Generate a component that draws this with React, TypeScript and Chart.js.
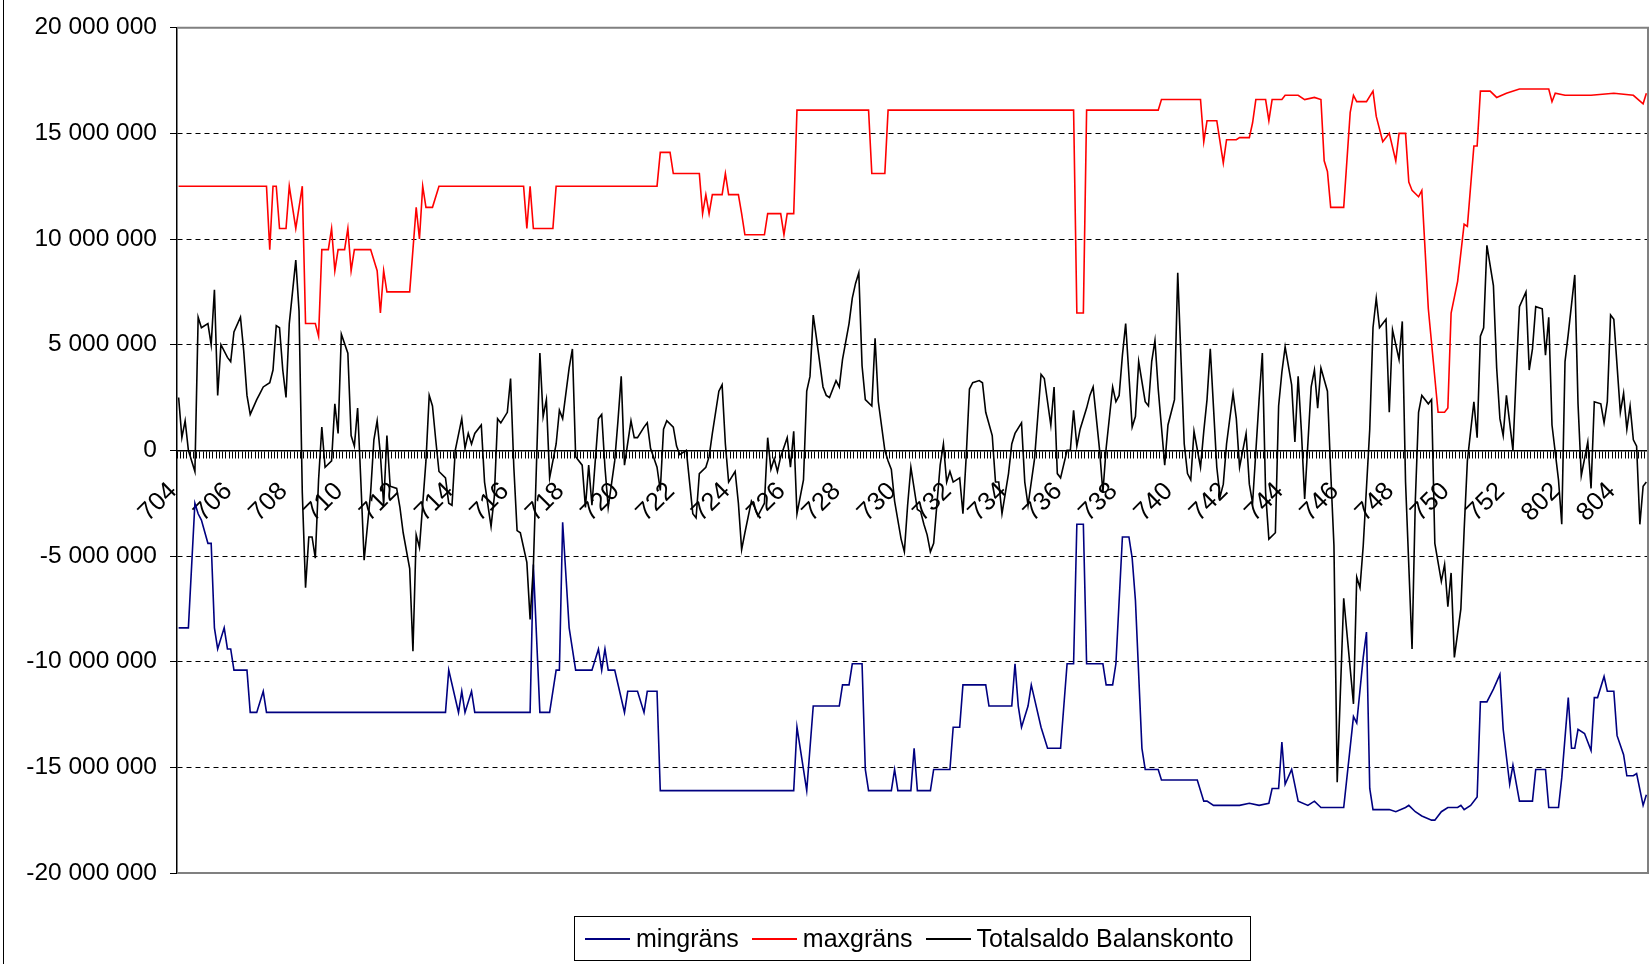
import React, { useEffect, useRef } from "react";
import { Chart, registerables } from "chart.js";

Chart.register(...registerables);

// Week labels shown on the category axis (one every 17 trading days)
const weekLabels = [
  "704", "706", "708", "710", "712", "714", "716", "718", "720", "722", "724", "726", "728",
  "730", "732", "734", "736", "738", "740", "742", "744", "746", "748", "750", "752", "802", "804",
];
const dayCount = 452;
const daysPerLabel = 17;

// Series values in millions SEK, as [day index, value]
const mingrans: [number, number][] = [
  [0, -8.4], [3, -8.4], [5, -2.5], [6, -3.0], [7, -3.3], [9, -4.4], [10, -4.4], [11, -8.4], [12, -9.4], [14, -8.4],
  [15, -9.4], [16, -9.4], [17, -10.4], [21, -10.4], [22, -12.4], [24, -12.4], [26, -11.4], [27, -12.4], [82, -12.4],
  [83, -10.4], [86, -12.4], [87, -11.4], [88, -12.4], [90, -11.4], [91, -12.4], [108, -12.4], [109, -5.4], [111, -12.4],
  [114, -12.4], [116, -10.4], [117, -10.4], [118, -3.4], [120, -8.4], [122, -10.4], [127, -10.4], [129, -9.4], [130, -10.4],
  [131, -9.4], [132, -10.4], [134, -10.4], [137, -12.4], [138, -11.4], [141, -11.4], [143, -12.4], [144, -11.4], [147, -11.4],
  [148, -16.1], [189, -16.1], [190, -13.1], [193, -16.1], [195, -12.1], [203, -12.1], [204, -11.1], [206, -11.1], [207, -10.1],
  [210, -10.1], [211, -15.1], [212, -16.1], [219, -16.1], [220, -15.1], [221, -16.1], [225, -16.1], [226, -14.1], [227, -16.1],
  [231, -16.1], [232, -15.1], [237, -15.1], [238, -13.1], [240, -13.1], [241, -11.1], [248, -11.1], [249, -12.1], [256, -12.1],
  [257, -10.1], [258, -12.1], [259, -13.1], [261, -12.1], [262, -11.1], [265, -13.1], [267, -14.1], [271, -14.1], [273, -10.1],
  [275, -10.1], [276, -3.5], [278, -3.5], [279, -10.1], [284, -10.1], [285, -11.1], [287, -11.1], [288, -10.1], [290, -4.1],
  [292, -4.1], [293, -5.1], [294, -7.1], [296, -14.1], [297, -15.1], [301, -15.1], [302, -15.6], [313, -15.6], [315, -16.6],
  [316, -16.6], [318, -16.8], [326, -16.8], [329, -16.7], [332, -16.8], [335, -16.7], [336, -16.0], [338, -16.0], [339, -13.8],
  [340, -15.8], [342, -15.1], [344, -16.6], [347, -16.8], [349, -16.6], [351, -16.9], [358, -16.9], [361, -12.6], [362, -12.9],
  [364, -9.8], [365, -8.6], [366, -16.0], [367, -17.0], [372, -17.0], [374, -17.1], [377, -16.9], [378, -16.8], [380, -17.1],
  [382, -17.3], [385, -17.5], [386, -17.5], [388, -17.1], [390, -16.9], [393, -16.9], [394, -16.8], [395, -17.0], [397, -16.8],
  [399, -16.4], [400, -11.9], [402, -11.9], [404, -11.3], [406, -10.6], [407, -13.2], [409, -15.8], [410, -14.9], [412, -16.6],
  [416, -16.6], [417, -15.1], [420, -15.1], [421, -16.9], [424, -16.9], [425, -15.5], [427, -11.7], [428, -14.1], [429, -14.1],
  [430, -13.2], [432, -13.4], [434, -14.2], [435, -11.7], [436, -11.7], [438, -10.7], [439, -11.4], [441, -11.4], [442, -13.5],
  [444, -14.4], [445, -15.4], [447, -15.4], [448, -15.3], [450, -16.8], [451, -16.3],
];

const maxgrans: [number, number][] = [
  [0, 12.5], [27, 12.5], [28, 9.5], [29, 12.5], [30, 12.5], [31, 10.5], [33, 10.5], [34, 12.5], [36, 10.5], [38, 12.5],
  [39, 6.0], [42, 6.0], [43, 5.4], [44, 9.5], [46, 9.5], [47, 10.5], [48, 8.5], [49, 9.5], [51, 9.5], [52, 10.5], [53, 8.5],
  [54, 9.5], [59, 9.5], [61, 8.5], [62, 6.5], [63, 8.5], [64, 7.5], [71, 7.5], [72, 9.5], [73, 11.5], [74, 10.0], [75, 12.5],
  [76, 11.5], [78, 11.5], [80, 12.5], [106, 12.5], [107, 10.5], [108, 12.5], [109, 10.5], [115, 10.5], [116, 12.5], [147, 12.5],
  [148, 14.1], [151, 14.1], [152, 13.1], [160, 13.1], [161, 11.2], [162, 12.1], [163, 11.2], [164, 12.1], [167, 12.1], [168, 13.1],
  [169, 12.1], [172, 12.1], [173, 11.2], [174, 10.2], [180, 10.2], [181, 11.2], [185, 11.2], [186, 10.2], [187, 11.2], [189, 11.2],
  [190, 16.1], [212, 16.1], [213, 13.1], [217, 13.1], [218, 16.1], [275, 16.1], [276, 6.5], [278, 6.5], [279, 16.1], [301, 16.1],
  [302, 16.6], [314, 16.6], [315, 14.6], [316, 15.6], [319, 15.6], [321, 13.6], [322, 14.7], [325, 14.7], [326, 14.8], [329, 14.8],
  [330, 15.5], [331, 16.6], [334, 16.6], [335, 15.6], [336, 16.6], [339, 16.6], [340, 16.8], [344, 16.8], [346, 16.6], [349, 16.7],
  [351, 16.6], [352, 13.7], [353, 13.2], [354, 11.5], [358, 11.5], [360, 16.0], [361, 16.8], [362, 16.5], [365, 16.5], [367, 17.0],
  [368, 15.8], [370, 14.6], [372, 15.0], [374, 13.7], [375, 15.0], [377, 15.0], [378, 12.7], [379, 12.3], [381, 12.0], [382, 12.3],
  [384, 6.7], [387, 1.8], [389, 1.8], [390, 2.0], [391, 6.5], [393, 8.0], [395, 10.7], [396, 10.6], [398, 14.4], [399, 14.4],
  [400, 17.0], [403, 17.0], [405, 16.7], [408, 16.9], [412, 17.1], [421, 17.1], [422, 16.5], [423, 16.9], [426, 16.8], [434, 16.8],
  [441, 16.9], [447, 16.8], [450, 16.4], [451, 16.9],
];

const totalsaldo: [number, number][] = [
  [0, 2.5], [1, 0.6], [2, 1.4], [3, 0], [5, -1.0], [6, 6.3], [7, 5.8], [9, 6.0], [10, 5.0], [11, 7.6], [12, 2.6], [13, 5.0],
  [15, 4.4], [16, 4.2], [17, 5.6], [19, 6.3], [20, 4.7], [21, 2.6], [22, 1.7], [24, 2.4], [25, 2.7], [26, 3.0], [28, 3.2],
  [29, 3.8], [30, 5.9], [31, 5.8], [32, 3.8], [33, 2.5], [34, 6.0], [36, 9.0], [37, 6.6], [38, -2.0], [39, -6.5], [40, -4.1],
  [41, -4.1], [42, -5.1], [43, -1.4], [44, 1.1], [45, -0.8], [47, -0.5], [48, 2.2], [49, 0.8], [50, 5.5], [52, 4.6], [53, 0.7],
  [54, 0.2], [55, 2.0], [56, -1.5], [57, -5.2], [59, -2.0], [60, 0.5], [61, 1.4], [62, -0.2], [63, -2.6], [64, 0.7], [65, -1.7],
  [67, -1.8], [68, -2.7], [69, -3.9], [71, -5.6], [72, -9.5], [73, -4.0], [74, -4.6], [76, -0.5], [77, 2.6], [78, 2.1], [79, 0.5],
  [80, -1.0], [82, -1.3], [83, -2.5], [84, -2.6], [85, 0.0], [87, 1.5], [88, 0.1], [89, 0.8], [90, 0.3], [91, 0.8], [93, 1.2],
  [94, -1.5], [96, -3.6], [97, -2.2], [98, 1.5], [99, 1.3], [101, 1.8], [102, 3.4], [103, -0.8], [104, -3.8], [105, -3.9],
  [107, -5.3], [108, -8.0], [109, -5.5], [111, 4.6], [112, 1.6], [113, 2.4], [114, -1.3], [116, 0.3], [117, 1.9], [118, 1.5],
  [120, 3.9], [121, 4.8], [122, -0.3], [124, -0.7], [125, -2.7], [126, -0.7], [127, -2.6], [129, 1.5], [130, 1.7], [131, -0.8],
  [132, -2.7], [134, -0.5], [135, 1.4], [136, 3.5], [137, -0.7], [139, 1.4], [140, 0.6], [141, 0.6], [143, 1.1], [144, 1.3],
  [145, 0.1], [147, -0.8], [148, -1.9], [149, 1.0], [150, 1.4], [152, 1.1], [153, 0.2], [154, -0.2], [156, 0.0], [157, -1.5],
  [158, -3.0], [159, -3.2], [160, -1.1], [162, -0.8], [163, -0.3], [164, 0.8], [166, 2.8], [167, 3.1], [168, 0.3], [169, -1.5],
  [171, -1.0], [172, -2.5], [173, -4.7], [174, -3.9], [176, -2.4], [177, -2.7], [178, -3.1], [180, -2.5], [181, 0.6], [182, -0.9],
  [183, -0.4], [184, -1.0], [185, -0.3], [187, 0.6], [188, -0.8], [189, 0.9], [190, -3.0], [192, -1.4], [193, 2.8], [194, 3.5],
  [195, 6.4], [196, 5.3], [198, 3.0], [199, 2.6], [200, 2.5], [202, 3.3], [203, 3.0], [204, 4.3], [206, 6.0], [207, 7.2],
  [208, 7.9], [209, 8.4], [210, 4.0], [211, 2.4], [213, 2.1], [214, 5.3], [215, 2.3], [217, 0.0], [218, -0.5], [219, -0.9],
  [220, -2.4], [222, -4.2], [223, -4.8], [224, -2.6], [225, -0.8], [227, -2.8], [228, -2.9], [229, -3.5], [230, -4.0], [231, -4.8],
  [232, -4.4], [234, -0.7], [235, 0.3], [236, -1.5], [237, -1.0], [238, -1.5], [240, -1.3], [241, -3.0], [242, -0.3], [243, 2.9],
  [244, 3.2], [246, 3.3], [247, 3.2], [248, 1.8], [250, 0.7], [251, -1.5], [252, -1.5], [253, -3.0], [255, -1.1], [256, 0.3],
  [257, 0.8], [259, 1.3], [260, -1.5], [261, -2.6], [263, -0.4], [264, 1.6], [265, 3.6], [266, 3.4], [268, 1.2], [269, 3.0],
  [270, -1.1], [271, -1.3], [273, 0.0], [274, 0.0], [275, 1.9], [276, 0.2], [277, 1.0], [279, 2.0], [280, 2.6], [281, 3.0],
  [283, 0.0], [284, -2.0], [285, 0.1], [287, 3.0], [288, 2.3], [289, 2.6], [290, 4.5], [291, 6.0], [293, 1.1], [294, 1.6],
  [295, 4.2], [297, 2.3], [298, 2.1], [299, 4.2], [300, 5.2], [301, 2.9], [303, -0.7], [304, 1.2], [305, 1.8], [306, 2.4],
  [307, 8.4], [309, 0.3], [310, -1.1], [311, -1.4], [312, 0.9], [314, -0.8], [315, 0.9], [316, 2.4], [317, 4.8], [319, -0.8],
  [320, -2.2], [321, -1.6], [322, 0.3], [324, 2.7], [325, 1.5], [326, -0.8], [328, 0.8], [329, -1.6], [330, -2.5], [332, 2.4],
  [333, 4.6], [334, -2.0], [335, -4.2], [337, -3.9], [338, 2.1], [339, 3.7], [340, 4.9], [342, 3.1], [343, 0.4], [344, 3.5],
  [345, 0.9], [346, -2.3], [348, 3.0], [349, 3.8], [350, 2.0], [351, 3.9], [353, 2.8], [354, -1.0], [355, -4.5], [356, -15.7],
  [358, -7.0], [361, -12.0], [362, -6.0], [363, -6.5], [364, -4.5], [366, 1.0], [367, 5.8], [368, 7.2], [369, 5.8], [371, 6.2],
  [372, 1.8], [373, 5.7], [375, 4.3], [376, 6.1], [377, -1.5], [379, -9.4], [380, -2.4], [381, 1.8], [382, 2.6], [384, 2.2],
  [385, 2.4], [386, -4.4], [388, -6.2], [389, -5.4], [390, -7.4], [391, -5.8], [392, -9.8], [394, -7.5], [395, -3.8], [396, -0.5],
  [398, 2.3], [399, 0.6], [400, 5.4], [401, 5.8], [402, 9.7], [404, 7.8], [405, 3.9], [406, 1.5], [407, 0.7], [408, 2.6],
  [410, 0.0], [411, 3.6], [412, 6.8], [414, 7.5], [415, 3.8], [416, 4.8], [417, 6.8], [419, 6.7], [420, 4.5], [421, 6.3],
  [422, 1.2], [424, -1.4], [425, -3.5], [426, 4.2], [427, 5.5], [429, 8.3], [430, 2.2], [431, -1.2], [433, 0.4], [434, -1.8],
  [435, 2.3], [437, 2.2], [438, 1.3], [439, 2.3], [440, 6.4], [441, 6.2], [443, 1.8], [444, 2.7], [445, 1.0], [446, 2.1],
  [447, 0.5], [448, 0.2], [449, -3.5], [450, -1.7], [451, -1.5],
];

const yTicks = { min: -20000000, max: 20000000, step: 5000000 };

const FONT = '"Liberation Sans", Arial, Helvetica, sans-serif';

const toPoints = (s: [number, number][]) => s.map(([d, v]) => ({ x: d, y: v * 1000000 }));

const fmt = (v: number) => {
  const n = Math.round(v);
  const s = String(Math.abs(n)).replace(/\B(?=(\d{3})+(?!\d))/g, " ");
  return (n < 0 ? "-" : "") + s;
};

const framePlugin = {
  id: "frame",
  beforeDatasetsDraw(chart: any) {
    const { ctx, chartArea } = chart;
    const { left, top, right, bottom } = chartArea;
    ctx.save();
    ctx.strokeStyle = "#808080";
    ctx.lineWidth = 2;
    ctx.beginPath();
    ctx.moveTo(left, top);
    ctx.lineTo(right, top);
    ctx.lineTo(right, bottom);
    ctx.lineTo(left, bottom);
    ctx.stroke();
    ctx.restore();
  },
  afterDraw(chart: any) {
    const { ctx } = chart;
    ctx.save();
    ctx.strokeStyle = "#000";
    ctx.lineWidth = 1;
    ctx.beginPath();
    ctx.moveTo(3.5, 0);
    ctx.lineTo(3.5, chart.height);
    ctx.stroke();
    ctx.restore();
  },
};

const legendItems = [
  { label: "mingräns", color: "#000080" },
  { label: "maxgräns", color: "#FF0000" },
  { label: "Totalsaldo Balanskonto", color: "#000000" },
];

export default function App() {
  const ref = useRef<HTMLCanvasElement>(null);

  useEffect(() => {
    if (!ref.current) return;
    const chart = new Chart(ref.current, {
      type: "line",
      data: {
        datasets: [
          {
            label: "mingräns",
            data: toPoints(mingrans),
            borderColor: "#000080",
            borderWidth: 1.6,
            pointRadius: 0,
            order: 3,
          },
          {
            label: "maxgräns",
            data: toPoints(maxgrans),
            borderColor: "#FF0000",
            borderWidth: 1.6,
            pointRadius: 0,
            order: 2,
          },
          {
            label: "Totalsaldo Balanskonto",
            data: toPoints(totalsaldo),
            borderColor: "#000000",
            borderWidth: 1.6,
            pointRadius: 0,
            order: 1,
          },
        ],
      },
      options: {
        responsive: false,
        animation: false,
        events: [],
        layout: { padding: { top: 25, right: 4, bottom: 91, left: 0 } },
        plugins: {
          legend: { display: false },
          tooltip: { enabled: false },
        },
        scales: {
          x: {
            type: "linear",
            min: -0.5,
            max: dayCount - 0.5,
            position: { y: 0 } as any,
            ticks: {
              stepSize: 1,
              autoSkip: false,
              minRotation: 45,
              maxRotation: 45,
              padding: 19,
              labelOffset: -4,
              color: "#000",
              font: { family: FONT, size: 25.5 },
              callback: (value: any) => {
                const k = Math.round(Number(value) + 0.5);
                if (Math.abs(Number(value) + 0.5 - k) > 1e-6) return "";
                if (k % daysPerLabel !== 0) return "";
                const i = k / daysPerLabel;
                return i < weekLabels.length ? weekLabels[i] : "";
              },
            },
            grid: {
              drawOnChartArea: false,
              drawTicks: true,
              tickLength: 7,
              tickColor: "#000",
              tickWidth: 1,
            },
            border: { display: true, color: "#000", width: 1.5 },
            afterFit: (s: any) => {
              s.paddingLeft = 0;
              s.paddingRight = 0;
            },
          },
          y: {
            type: "linear",
            min: yTicks.min,
            max: yTicks.max,
            ticks: {
              stepSize: yTicks.step,
              padding: 13,
              color: "#000",
              font: { family: FONT, size: 24.5 },
              callback: (value: any) => fmt(Number(value)),
            },
            grid: {
              color: (c: any) => {
                const v = c.tick ? c.tick.value : 0;
                return v === 0 || Math.abs(v) === yTicks.max ? "rgba(0,0,0,0)" : "#000";
              },
              lineWidth: 1,
              tickLength: 7,
              tickColor: "#000",
              tickWidth: 1,
            },
            border: { display: true, color: "#000", width: 1.5, dash: [5, 4] },
            afterFit: (s: any) => {
              s.width = 177;
            },
          },
        },
      },
      plugins: [framePlugin],
    });
    return () => chart.destroy();
  }, []);

  return (
    <div
      style={{
        position: "absolute",
        left: 0,
        top: 0,
        width: 1652,
        height: 964,
        background: "#fff",
        overflow: "hidden",
      }}
    >
      <canvas ref={ref} width={1652} height={964} style={{ display: "block", width: 1652, height: 964 }} />
      <div
        style={{
          position: "absolute",
          left: 574,
          top: 916,
          width: 677,
          height: 45,
          border: "1px solid #000",
          boxSizing: "border-box",
          display: "flex",
          alignItems: "center",
          paddingLeft: 10,
          gap: 13,
          fontFamily: FONT,
          fontSize: 25,
          color: "#000",
          whiteSpace: "nowrap",
        }}
      >
        {legendItems.map((it) => (
          <div key={it.label} style={{ display: "flex", alignItems: "center", gap: 6 }}>
            <span style={{ display: "inline-block", width: 45, height: 0, borderTop: `2px solid ${it.color}` }} />
            <span>{it.label}</span>
          </div>
        ))}
      </div>
    </div>
  );
}
